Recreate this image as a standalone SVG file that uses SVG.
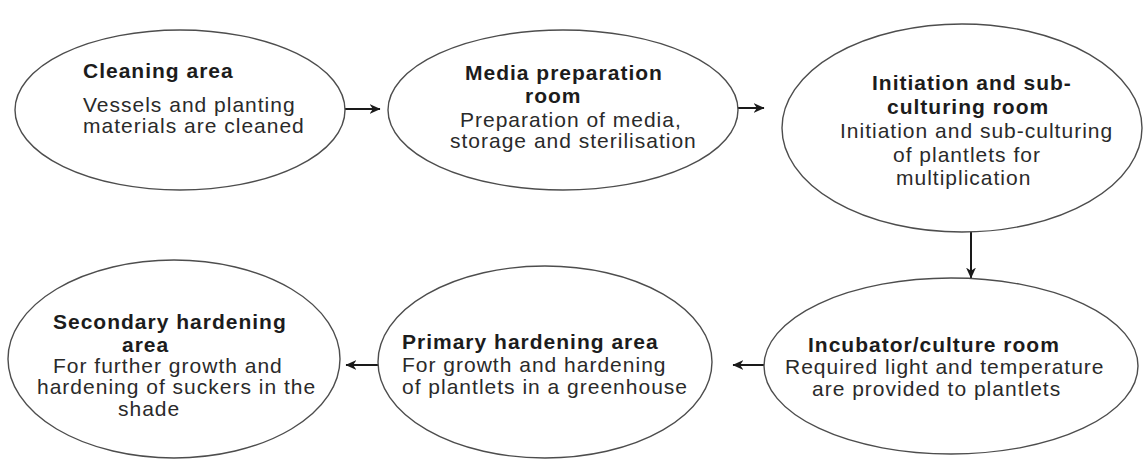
<svg xmlns="http://www.w3.org/2000/svg" width="1144" height="460" viewBox="0 0 1144 460">
  <style>
    .node { fill: #ffffff; stroke: #4d4d4d; stroke-width: 1.4; }
    .title { font-family: "Liberation Sans", Arial, sans-serif; font-size: 21px; font-weight: bold; fill: #1c1c1c; letter-spacing: 1px; }
    .body { font-family: "Liberation Sans", Arial, sans-serif; font-size: 21px; fill: #2a2a2a; letter-spacing: 1px; }
    .link { stroke: #1a1a1a; stroke-width: 2; fill: none; marker-end: url(#head); }
  </style>
  <defs>
    <marker id="head" viewBox="0 0 10 10" refX="9.5" refY="5" markerWidth="5.5" markerHeight="5.5" orient="auto" markerUnits="strokeWidth">
      <path d="M0,0.5 L10,5 L0,9.5 L3,5 Z" fill="#1a1a1a"/>
    </marker>
  </defs>
  <rect width="1144" height="460" fill="#ffffff"/>

  <g id="connectors">
    <line class="link" x1="345" y1="109" x2="380" y2="109"/>
    <line class="link" x1="738" y1="108" x2="764" y2="108"/>
    <line class="link" x1="971" y1="232" x2="971" y2="278"/>
    <line class="link" x1="764" y1="365" x2="733" y2="365"/>
    <line class="link" x1="378" y1="365" x2="346" y2="365"/>
  </g>

  <g id="cleaning-area">
    <ellipse class="node" cx="180" cy="110" rx="165" ry="80"/>
    <text class="title" x="83" y="78">Cleaning area</text>
    <text class="body" x="83" y="112">Vessels and planting</text>
    <text class="body" x="83" y="133">materials are cleaned</text>
  </g>

  <g id="media-preparation-room">
    <ellipse class="node" cx="563" cy="110" rx="175" ry="80"/>
    <text class="title" x="465" y="80">Media preparation</text>
    <text class="title" x="525" y="103">room</text>
    <text class="body" x="460" y="127">Preparation of media,</text>
    <text class="body" x="450" y="148">storage and sterilisation</text>
  </g>

  <g id="initiation-room">
    <ellipse class="node" cx="962" cy="128" rx="180" ry="104"/>
    <text class="title" x="872" y="90">Initiation and sub-</text>
    <text class="title" x="887" y="114">culturing room</text>
    <text class="body" x="840" y="138">Initiation and sub-culturing</text>
    <text class="body" x="893" y="162">of plantlets for</text>
    <text class="body" x="896" y="185">multiplication</text>
  </g>

  <g id="incubator-room">
    <ellipse class="node" cx="951" cy="366" rx="187" ry="88"/>
    <text class="title" x="808" y="352">Incubator/culture room</text>
    <text class="body" x="785" y="374">Required light and temperature</text>
    <text class="body" x="812" y="396">are provided to plantlets</text>
  </g>

  <g id="primary-hardening-area">
    <ellipse class="node" cx="545" cy="362" rx="167" ry="96"/>
    <text class="title" x="402" y="349">Primary hardening area</text>
    <text class="body" x="402" y="372">For growth and hardening</text>
    <text class="body" x="402" y="394">of plantlets in a greenhouse</text>
  </g>

  <g id="secondary-hardening-area">
    <ellipse class="node" cx="174" cy="359" rx="166" ry="99"/>
    <text class="title" x="53" y="329">Secondary hardening</text>
    <text class="title" x="122" y="352">area</text>
    <text class="body" x="53" y="373">For further growth and</text>
    <text class="body" x="37" y="394">hardening of suckers in the</text>
    <text class="body" x="118" y="416">shade</text>
  </g>
</svg>
